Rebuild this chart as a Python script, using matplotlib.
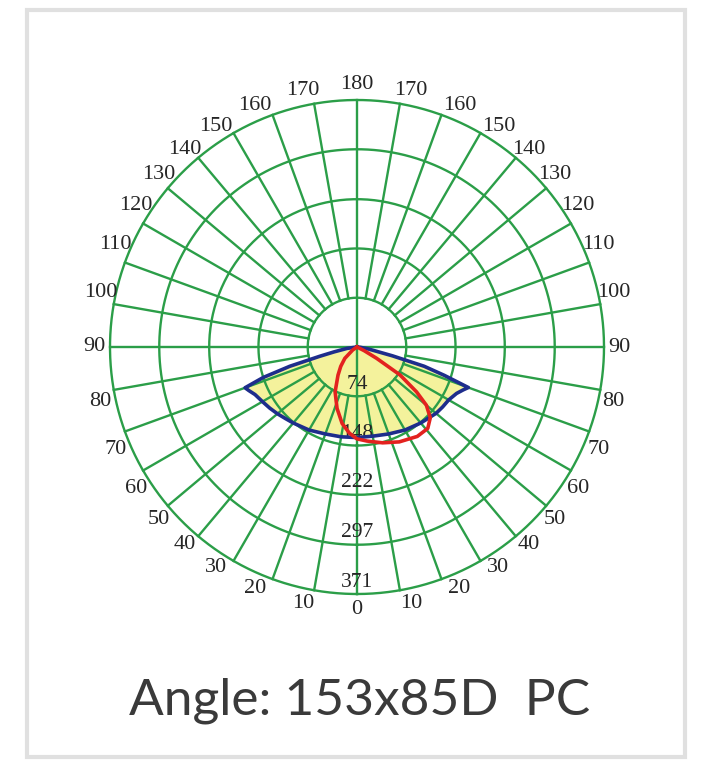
import numpy as np
import matplotlib.pyplot as plt
from matplotlib.patches import Rectangle

# candela rings and angle labels
ring_values = [74, 148, 222, 297, 371]
angle_labels = [0, 10, 20, 30, 40, 50, 60, 70, 80, 90,
                100, 110, 120, 130, 140, 150, 160, 170, 180]

# blue plane (filled), degrees from nadir, negative = left side
blue_angles = [-90, -82, -78, -76, -74, -72, -70, -68, -65, -60, -55, -50, -45, -40, -30, -20, -10, 0,
               10, 20, 30, 40, 50, 55, 60, 65, 68, 70, 72, 74, 76, 80, 85, 90]
blue_values = [0, 15, 35, 58, 105, 148, 179, 175, 169, 164, 160, 156, 152, 149, 144, 139, 137, 136,
               136, 139, 144, 149, 155, 157, 159, 165, 172, 178, 138, 105, 55, 18, 5, 0]

# red plane
red_angles = [-90, -60, -55, -47, -40, -34, -26, -18, -11, -5, 0, 6, 15, 24, 34, 41, 46, 50,
              53, 57, 60, 63, 66, 90]
red_values = [0, 0, 8, 25, 38, 51, 75, 97, 117, 130, 138, 142, 149, 156, 162, 162, 153, 136,
              112, 77, 34, 12, 0, 0]

green = '#2b9e48'
txt = '#262626'
rmax = ring_values[-1]

fig = plt.figure(figsize=(7.06, 7.60), dpi=100)
fig.patch.set_facecolor('white')
fig.add_artist(Rectangle((27 / 706, 3 / 760), 658 / 706, 747 / 760, transform=fig.transFigure,
                         fill=False, ec='#e0e0e0', lw=3))

ax = fig.add_axes([110 / 706, 166 / 760, 494 / 706, 494 / 760], projection='polar')
ax.set_theta_zero_location('S')
ax.set_ylim(0, rmax)
ax.grid(False)
ax.set_xticks([])
ax.set_yticks([])
ax.spines['polar'].set_visible(False)
ax.patch.set_alpha(0)

# yellow fill under the grid
bt = np.radians(blue_angles)
ax.fill(bt, blue_values, color='#f4f29c', zorder=1, lw=0)

# rings
full = np.linspace(0, 2 * np.pi, 400)
for v in ring_values:
    ax.plot(full, [v] * len(full), color=green, lw=1.7, zorder=2, clip_on=False)

# spokes every 10 degrees, the main axes cross the centre
for a in range(0, 360, 10):
    t = np.radians(a)
    r0 = 0 if a % 90 == 0 else ring_values[0]
    ax.plot([t, t], [r0, rmax], color=green, lw=1.7, zorder=2, clip_on=False)

# ring value labels
for v in ring_values:
    ax.text(0, v - 18, str(v), ha='center', va='center', fontsize=15.5,
            family='Liberation Serif', color=txt, zorder=3)

# angle labels (nudged toward the diagonals like the original)
for a in angle_labels:
    for side in (1, -1):
        if side == -1 and a in (0, 180):
            continue
        th = side * (a + 3 * np.sin(np.radians(4 * a)))
        ax.text(np.radians(th), 394, str(a), ha='center', va='center', fontsize=16,
                family='Liberation Serif', color=txt, clip_on=False)

# curves
ax.plot(bt, blue_values, color='#1e2d8c', lw=2.6, zorder=4)
ax.plot(np.radians(red_angles), red_values, color='#e3221f', lw=2.6, zorder=5)

fig.text(360 / 706, 1 - 701 / 760, 'Angle: 153x85D  PC', ha='center', va='center',
         fontsize=37, family='Lato', color='#3a3a3a')

plt.savefig('out.png', dpi=100)
